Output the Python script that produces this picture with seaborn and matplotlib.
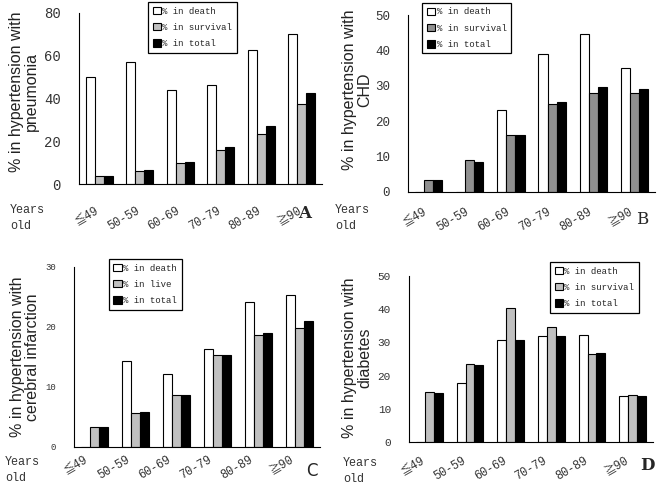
import numpy as np
import pandas as pd
import matplotlib
matplotlib.use("Agg")
import matplotlib.pyplot as plt
import seaborn as sns

ages = ["≦49", "50-59", "60-69", "70-79", "80-89", "≧90"]

# A: pneumonia
pneu_death = [50, 57, 44, 46.5, 62.5, 70]
pneu_surv = [3.6, 6.0, 10.0, 16.0, 23.5, 37.5]
pneu_total = [3.6, 6.5, 10.5, 17.2, 27.2, 42.5]

# B: CHD
chd_death = [0, 0, 23.2, 39.0, 44.5, 35.0]
chd_surv = [3.5, 8.9, 16.2, 24.9, 28.1, 28.1]
chd_total = [3.5, 8.6, 16.2, 25.5, 29.8, 29.0]

# C: cerebral infarction
ci_death = [0, 14.3, 12.2, 16.3, 24.1, 25.4]
ci_live = [3.3, 5.6, 8.6, 15.3, 18.6, 19.9]
ci_total = [3.3, 5.8, 8.6, 15.3, 19.0, 21.0]

# D: diabetes
dm_death = [0, 17.9, 30.8, 32.0, 32.2, 13.8]
dm_surv = [15.1, 23.4, 40.3, 34.5, 26.4, 14.1]
dm_total = [14.9, 23.2, 30.8, 32.0, 26.8, 13.9]

sns.set_style("white")
MONO = ["Liberation Mono", "Noto Sans CJK SC", "DejaVu Sans"]
plt.rcParams["font.family"] = ["Liberation Sans", "DejaVu Sans"]


def long_df(death, other, total, other_name):
    rows = []
    for name, vals in [("% in death", death), (other_name, other), ("% in total", total)]:
        for a, v in zip(ages, vals):
            rows.append({"age": a, "value": v, "group": name})
    return pd.DataFrame(rows)


panels = [
    # data, gray, ylabel, ymax, step, axes box px, legend anchor, ytick size,
    # ylabel coords, letter, "Years old" position, xtick pad, label nudge (slots)
    (long_df(pneu_death, pneu_surv, pneu_total, "% in survival"), "#c0c0c0",
     "% in hypertension with\npneumonia", 80, 20,
     [79, 13, 322, 184], (0.284, 1.064), 10, (-0.165, 0.54),
     ("A", 305, 213, "serif", "bold"), (10, 204), 15, -0.1),
    (long_df(chd_death, chd_surv, chd_total, "% in survival"), "#909090",
     "% in hypertension with\nCHD", 50, 10,
     [408, 15, 655, 192], (0.057, 1.068), 9, (-0.146, 0.576),
     ("B", 642, 220, "serif", "normal"), (335, 204), 10, -0.12),
    (long_df(ci_death, ci_live, ci_total, "% in live"), "#c0c0c0",
     "% in hypertension with\ncerebral infarction", 30, 10,
     [74, 267, 320, 447], (0.142, 1.044), 6.5, (-0.138, 0.5),
     ("C", 312, 471, "sans-serif", "normal"), (5, 456), 5, -0.24),
    (long_df(dm_death, dm_surv, dm_total, "% in survival"), "#c0c0c0",
     "% in hypertension with\ndiabetes", 50, 10,
     [409, 276, 653, 442], (0.578, 1.084), 8, (-0.152, 0.51),
     ("D", 647, 466, "serif", "bold"), (343, 457), 9, -0.2),
]

W, H = 660, 488
fig = plt.figure(figsize=(W / 100, H / 100), dpi=100)

for (df, gray, ylabel, ymax, step, box, anchor, ysize, labxy, letter, yrs, xpad, nudge) in panels:
    x0, y0, x1, y1 = box
    ax = fig.add_axes([x0 / W, 1 - y1 / H, (x1 - x0) / W, (y1 - y0) / H])
    sns.barplot(data=df, x="age", y="value", hue="group",
                palette=["white", gray, "black"], edgecolor="black",
                linewidth=0.8, width=0.66, ax=ax, saturation=1)
    ax.set_xlim(-0.5, 5.5)
    ax.set_ylim(0, ymax)
    ax.set_yticks(np.arange(0, ymax + 1, step))
    ax.tick_params(axis="y", direction="in", length=4, width=0.8,
                   labelsize=ysize, labelcolor="#333333", pad=13)
    for t in ax.get_yticklabels():
        t.set_family(MONO)
    # invisible major ticks carry the labels, nudged a little left as in the original
    ax.set_xticks(np.arange(len(ages)) + nudge)
    ax.set_xticklabels(ages, rotation=30, ha="right", rotation_mode="anchor",
                       family=MONO, fontsize=8.5, color="#333333")
    ax.tick_params(axis="x", which="major", length=0, pad=xpad)
    ax.set_xticks(np.arange(0.5, 6, 1), minor=True)
    ax.tick_params(axis="x", which="minor", direction="in", length=4, width=0.8)
    for s in ["top", "right"]:
        ax.spines[s].set_visible(False)
    for s in ["left", "bottom"]:
        ax.spines[s].set_color("black")
        ax.spines[s].set_linewidth(0.8)
    ax.set_xlabel("")
    ax.set_ylabel(ylabel, fontsize=11.5, color="#222222", linespacing=1.0)
    ax.yaxis.set_label_coords(*labxy)
    leg = ax.legend(loc="upper left", bbox_to_anchor=anchor, frameon=True,
                    fancybox=False, framealpha=1, edgecolor="black",
                    prop={"family": MONO, "size": 6.5}, handlelength=0.9,
                    handleheight=0.9, handletextpad=0.2, labelspacing=0.8,
                    borderpad=0.5, borderaxespad=0)
    leg.get_frame().set_linewidth(0.9)
    lt, lx, ly, lfam, lw = letter
    fig.text(lx / W, 1 - ly / H, lt, family=lfam, fontweight=lw,
             fontsize=12, ha="center", va="center")
    fig.text(yrs[0] / W, 1 - yrs[1] / H, "Years\nold", family=MONO,
             fontsize=8.5, color="#333333", ha="left", va="top",
             linespacing=1.4)

fig.savefig("out.png", dpi=100)
